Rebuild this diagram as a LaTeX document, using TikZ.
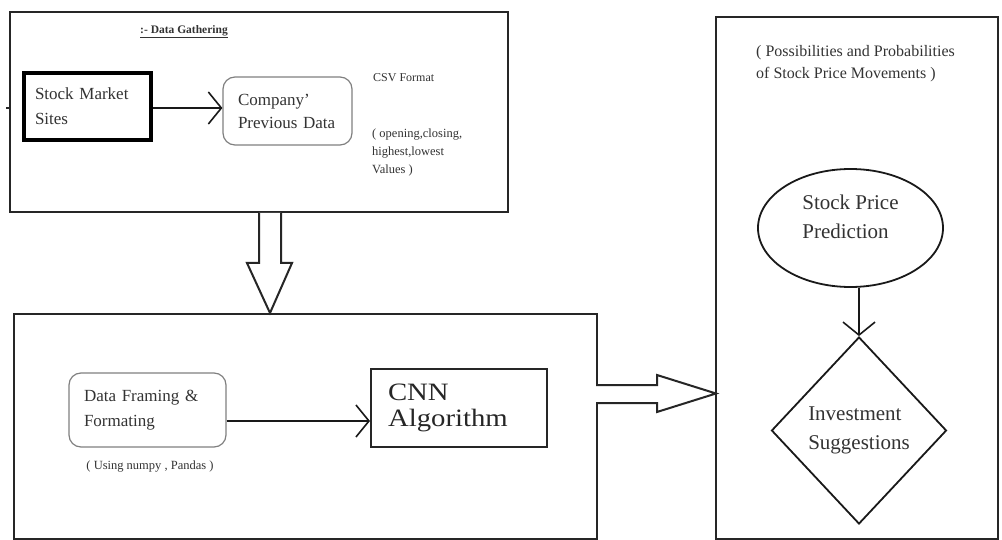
\documentclass[tikz,border=0pt]{standalone}
\usepackage{fontspec}
\setmainfont{Liberation Serif}
\newfontfamily\cnnfont[FakeStretch=1.15]{Liberation Serif}
\usetikzlibrary{arrows.meta,shapes.geometric,calc}
\tikzset{
  frame/.style={draw=black!85, line width=2pt, inner sep=0pt},
  thickbox/.style={draw=black, line width=4pt, inner ysep=0pt, align=left, text=black!80},
  roundbox/.style={draw=black!50, line width=1.2pt, rounded corners=12pt, inner ysep=0pt, align=left, text=black!80},
  plainbox/.style={draw=black!85, line width=2pt, inner ysep=0pt, align=left, text=black!85},
  txt/.style={text=black!80, inner sep=0pt, align=left},
  barb/.style={-{Straight Barb[length=13pt,width=32pt,line width=1.6pt]}, line width=1.8pt, draw=black!90},
  hollow/.style={draw=black!85, line width=2pt, fill=white, line join=miter},
}
\begin{document}
\begin{tikzpicture}[x=1pt,y=-1pt]
\useasboundingbox (0,0) rectangle (1002,540);
\fill[white] (0,0) rectangle (1002,540);

% outer frames
\node[frame, minimum width=498pt, minimum height=200pt] (gather) at (259,112) {};
\node[frame, minimum width=583pt, minimum height=225pt] (process) at (305.5,426.5) {};
\node[frame, minimum width=282pt, minimum height=522pt] (result) at (857,278) {};

% small tick on left border of top frame
\coordinate (tick) at (gather.west |- 0,108);
\draw[black!85, line width=1.2pt] ($(tick)+(-3,0)$) -- (tick);

% top frame contents
\node[txt, font=\bfseries\fontsize{11.5}{14}\selectfont] (title) at (184,32) {\underline{:- Data Gathering}};
\node[thickbox, font=\fontsize{17}{25}\selectfont, inner xsep=11pt, text width=105pt, minimum height=67pt] (sms) at (87.5,106.5) {Stock Market\\Sites\\[-2pt]};
\node[roundbox, font=\fontsize{17}{23}\selectfont, inner xsep=15pt, text width=99pt, minimum height=68pt] (comp) at (287.5,111) {Company'\\Previous Data};
\node[txt, anchor=west, font=\fontsize{12}{18}\selectfont] (csv) at (373,78) {CSV Format};
\node[txt, anchor=north west, font=\fontsize{12.5}{18}\selectfont] (vals) at (372,129) {( opening,closing,\\highest,lowest\\Values )};
\coordinate (smsa) at (sms.east |- 0,108);
\draw[barb] (smsa) -- (smsa -| comp.west);

% hollow down arrow
\draw[hollow] (259,213) -- (259,263) -- (247,263) -- (270,313) -- (292,263) -- (281,263) -- (281,213);

% bottom frame contents
\node[roundbox, font=\fontsize{17}{25}\selectfont, inner xsep=15pt, text width=127pt, minimum height=74pt] (df) at (147.5,410) {Data Framing \&\\Formating};
\node[txt, font=\fontsize{12.5}{15}\selectfont] (numpy) at (150,467) {( Using numpy , Pandas )};
\node[plainbox, font=\cnnfont\fontsize{25}{26}\selectfont, inner xsep=17pt, text width=142pt, minimum height=78pt] (cnn) at (459,408) {CNN\\Algorithm};
\coordinate (dfa) at ($(df.east)+(0,11)$);
\draw[barb] (dfa) -- (dfa -| cnn.west);

% hollow right arrow
\draw[hollow] (596,385) -- (657,385) -- (657,375) -- (716,393.5) -- (657,412) -- (657,403) -- (596,403);

% right frame contents
\node[txt, anchor=north west, font=\fontsize{16}{22}\selectfont] (poss) at (756,45) {( Possibilities and Probabilities\\of Stock Price Movements )};
\node[ellipse, draw=black!90, line width=1.8pt, minimum width=185pt, minimum height=118pt, inner sep=0pt, align=left, text=black!80, font=\fontsize{21}{29}\selectfont] (pred) at (850.5,228) {Stock Price\\Prediction\\[-6pt]};
\node[diamond, draw=black!90, line width=1.8pt, minimum width=175pt, minimum height=187pt, inner sep=0pt, align=left, text=black!80, font=\fontsize{21}{29}\selectfont] (inv) at (859,430.5) {Investment\\Suggestions};
\draw[barb] (pred.south -| inv.north) -- (inv.north);
\end{tikzpicture}
\end{document}
